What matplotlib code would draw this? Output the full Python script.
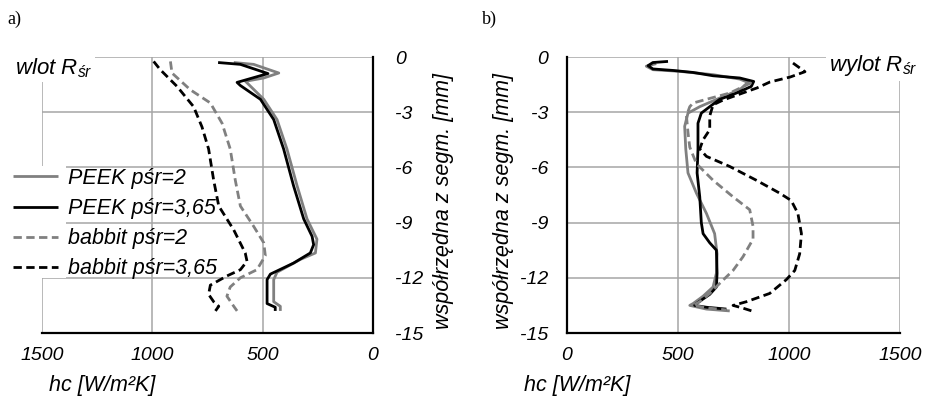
import matplotlib
matplotlib.use("Agg")
import matplotlib.pyplot as plt
from matplotlib.patches import Rectangle

plt.rcParams['font.family'] = ['Liberation Sans', 'DejaVu Sans']
plt.rcParams['font.style'] = 'italic'
plt.rcParams['axes.unicode_minus'] = False
plt.rcParams['mathtext.fontset'] = 'custom'
plt.rcParams['mathtext.rm'] = 'Liberation Sans:italic'
plt.rcParams['mathtext.it'] = 'Liberation Sans:italic'

# ---------------- data: heat transfer coefficient hc [W/m2K] vs depth z [mm]
series_labels = ["PEEK pśr=2", "PEEK pśr=3,65", "babbit pśr=2", "babbit pśr=3,65"]

# inlet (wlot)
in_peek2_hc = [631, 541, 427, 495, 578, 495, 435, 390, 344, 299, 254, 261, 329, 435, 450, 450, 420, 420]
in_peek2_z = [-0.3, -0.4, -0.87, -1.14, -1.32, -2.3, -3.4, -5.0, -7.0, -8.8, -9.9, -10.65, -11.0, -11.7, -12.1, -13.3, -13.55, -13.8]

in_peek365_hc = [702, 601, 476, 616, 601, 510, 450, 405, 360, 314, 276, 269, 284, 360, 465, 480, 480, 443, 443]
in_peek365_z = [-0.3, -0.4, -0.9, -1.38, -1.55, -2.3, -3.4, -5.0, -7.0, -8.8, -9.75, -10.2, -10.65, -11.2, -11.8, -12.1, -13.4, -13.6, -13.8]

in_bab2_hc = [918, 911, 828, 737, 684, 647, 624, 601, 541, 495, 488, 526, 601, 647, 662, 631, 616]
in_bab2_z = [-0.24, -0.87, -1.78, -2.5, -3.6, -5.0, -6.7, -8.1, -9.2, -10.1, -10.8, -11.56, -12.0, -12.5, -13.0, -13.55, -13.8]

in_bab365_hc = [994, 964, 888, 813, 775, 745, 722, 699, 631, 579, 571, 601, 662, 737, 745, 722, 699, 714]
in_bab365_z = [-0.24, -0.69, -1.6, -2.7, -3.8, -5.0, -6.7, -8.1, -9.4, -10.65, -11.1, -11.56, -11.9, -12.4, -12.9, -13.3, -13.55, -13.8]

# outlet (wylot)
out_peek2_hc = [402, 357, 387, 507, 658, 778, 815, 778, 688, 598, 545, 530, 535, 545, 583, 628, 665, 676, 673, 658, 613, 568, 553, 628, 733]
out_peek2_z = [-0.36, -0.5, -0.69, -0.78, -0.96, -1.2, -1.38, -1.78, -2.23, -2.7, -3.05, -3.77, -5.0, -6.3, -7.4, -8.5, -9.6, -10.7, -11.75, -12.5, -13.0, -13.4, -13.5, -13.7, -13.8]

out_peek365_hc = [455, 387, 365, 387, 477, 568, 658, 778, 841, 830, 763, 688, 643, 605, 590, 590, 586, 598, 605, 613, 643, 673, 676, 673, 643, 583, 575, 628, 718]
out_peek365_z = [-0.24, -0.3, -0.47, -0.65, -0.73, -0.84, -1.02, -1.14, -1.33, -1.6, -1.96, -2.3, -2.7, -3.05, -3.6, -5.0, -6.3, -7.6, -9.0, -9.6, -10.1, -10.5, -11.75, -12.5, -12.9, -13.4, -13.5, -13.6, -13.7]

out_bab2_hc = [830, 733, 628, 568, 553, 538, 545, 553, 583, 658, 748, 823, 838, 838, 793, 748, 688, 643, 598, 568, 643, 718]
out_bab2_z = [-1.4, -1.96, -2.3, -2.5, -2.7, -3.2, -4.1, -4.9, -5.8, -6.7, -7.6, -8.3, -9.2, -9.9, -10.85, -11.6, -12.3, -12.85, -13.3, -13.5, -13.65, -13.75]

out_bab365_hc = [1018, 1072, 1005, 914, 856, 703, 658, 643, 643, 613, 598, 628, 733, 853, 958, 1010, 1040, 1056, 1048, 1026, 988, 913, 808, 748, 793, 845]
out_bab365_z = [-0.33, -0.8, -1.09, -1.36, -1.68, -2.34, -2.6, -3.2, -3.95, -4.5, -5.0, -5.4, -5.95, -6.7, -7.4, -7.8, -8.5, -9.6, -10.7, -11.6, -12.1, -12.85, -13.3, -13.5, -13.65, -13.85]

x_ticks = [0, 500, 1000, 1500]
y_ticks = [0, -3, -6, -9, -12, -15]

GRAY = '#808080'
GRID = '#a6a6a6'
LW = 2.0
DASH = (0, (3.0, 1.6))
styles = [dict(color=GRAY, lw=LW, ls='-'),
          dict(color='black', lw=LW, ls='-'),
          dict(color=GRAY, lw=LW, ls=DASH),
          dict(color='black', lw=LW, ls=DASH)]

W, H = 931, 399
fig = plt.figure(figsize=(W / 100, H / 100), dpi=100)


def fx(px):
    return px / W


def fy(py):
    return 1 - py / H


ax_a = fig.add_axes([fx(42), fy(333), fx(373) - fx(42), fy(57) - fy(333)])
ax_b = fig.add_axes([fx(567), fy(333), fx(900) - fx(567), fy(57) - fy(333)])

inlet = [(in_peek2_hc, in_peek2_z), (in_peek365_hc, in_peek365_z),
         (in_bab2_hc, in_bab2_z), (in_bab365_hc, in_bab365_z)]
outlet = [(out_peek2_hc, out_peek2_z), (out_peek365_hc, out_peek365_z),
          (out_bab2_hc, out_bab2_z), (out_bab365_hc, out_bab365_z)]

tick_font = dict(family='Liberation Sans', style='italic', size=14)

for ax, data in ((ax_a, inlet), (ax_b, outlet)):
    for (hc, z), st, lab in zip(data, styles, series_labels):
        ax.plot(hc, z, label=lab, solid_joinstyle='round', dash_joinstyle='round',
                solid_capstyle='butt', **st)
    ax.set_ylim(-15, 0)
    ax.set_yticks(y_ticks)
    ax.set_yticklabels([str(v) for v in y_ticks], fontdict=tick_font)
    ax.set_xticks(x_ticks)
    ax.set_xticklabels([str(v) for v in x_ticks], fontdict=tick_font)
    ax.grid(True, color=GRID, lw=1.1)
    ax.set_axisbelow(True)
    ax.tick_params(length=0)
    for s in ax.spines.values():
        s.set_linewidth(1.6)
        s.set_color('black')

# panel a: hc axis reversed, depth labels on the right
ax_a.set_xlim(1500, 0)
ax_a.yaxis.tick_right()
ax_a.spines['top'].set_visible(False)
ax_a.spines['left'].set_visible(False)
ax_a.tick_params(axis='y', pad=16)
for lbl in ax_a.get_yticklabels():
    lbl.set_horizontalalignment('left')
ax_a.tick_params(axis='x', pad=10)

# panel b
ax_b.set_xlim(0, 1500)
ax_b.spines['top'].set_visible(False)
ax_b.spines['right'].set_visible(False)
ax_b.tick_params(axis='y', pad=13.5)
ax_b.tick_params(axis='x', pad=10)

# legend in panel a, with white backing behind its line samples
ax_a.add_patch(Rectangle((fx(0), fy(278)), fx(66), fy(166) - fy(278),
                         transform=fig.transFigure, facecolor='white',
                         edgecolor='none', zorder=1.5, clip_on=False))
leg = ax_a.legend(loc='upper left', bbox_to_anchor=(fx(13), fy(168)),
                  bbox_transform=fig.transFigure, frameon=False,
                  prop=dict(family='Liberation Sans', style='italic', size=15.5),
                  handlelength=2.1, handletextpad=0.45, labelspacing=0.42,
                  borderpad=0, borderaxespad=0)
leg.set_zorder(5)

# panel captions
txt_kw = dict(fontsize=16, fontstyle='italic', va='center', ha='left',
              bbox=dict(facecolor='white', edgecolor='none', pad=2))
fig.text(fx(15), fy(68), r'wlot $\mathrm{R_{śr}}$', **txt_kw)
fig.text(fx(829), fy(66), r'wylot $\mathrm{R_{śr}}$', **txt_kw)

# axis titles
ylab = 'współrzędna z segm. [mm]'
fig.text(fx(444), fy(201), ylab, rotation=90, ha='center', va='center',
         fontsize=15.5, fontstyle='italic')
fig.text(fx(504), fy(201), ylab, rotation=90, ha='center', va='center',
         fontsize=15.5, fontstyle='italic')
xlab = 'hc [W/m²K]'
fig.text(fx(102), fy(385), xlab, ha='center', va='center', fontsize=15.5, fontstyle='italic')
fig.text(fx(577), fy(385), xlab, ha='center', va='center', fontsize=15.5, fontstyle='italic')

fig.text(fx(7), fy(19), 'a)', family='Liberation Serif', fontstyle='normal',
         fontsize=13, ha='left', va='center')
fig.text(fx(482), fy(19), 'b)', family='Liberation Serif', fontstyle='normal',
         fontsize=13, ha='left', va='center')

fig.savefig('out.png', dpi=100, facecolor='white')
